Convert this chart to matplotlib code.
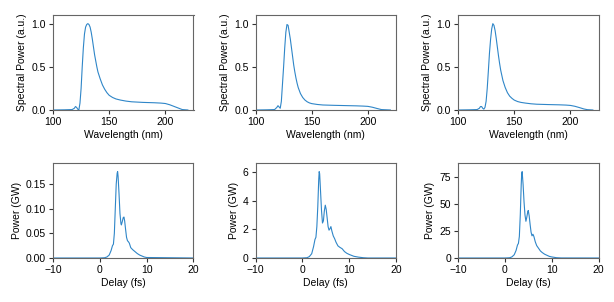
import matplotlib
matplotlib.use("Agg")
import matplotlib.pyplot as plt

plt.rcParams["font.family"] = ["Liberation Sans", "DejaVu Sans"]
plt.rcParams["font.size"] = 7.5

# spectra (wavelength in nm, normalised spectral power)
wl_1 = [100, 110, 117, 119, 120, 121, 122, 123, 124, 125, 126, 127, 128, 129, 130, 131, 132, 133,
        134, 135, 136, 137, 138, 139, 140, 142, 144, 146, 148, 150, 153, 156, 160, 165, 170, 180,
        190, 196, 200, 204, 208, 212, 215, 220]
sp_1 = [0.0, 0.002, 0.005, 0.02, 0.04, 0.03, 0.01, 0.0, 0.08, 0.25, 0.5, 0.72, 0.88, 0.96, 0.99,
        1.0, 0.99, 0.96, 0.9, 0.82, 0.73, 0.64, 0.57, 0.5, 0.44, 0.36, 0.29, 0.24, 0.2, 0.17, 0.145,
        0.128, 0.115, 0.103, 0.095, 0.088, 0.084, 0.08, 0.075, 0.06, 0.04, 0.02, 0.005, 0.0]

wl_2 = [100, 110, 117, 119, 120, 121, 122, 123, 124, 125, 126, 127, 128, 129, 130, 131, 132, 133,
        134, 135, 136, 137, 138, 140, 142, 144, 146, 148, 150, 155, 160, 170, 180, 190, 196, 200,
        204, 208, 212, 220]
sp_2 = [0.0, 0.002, 0.005, 0.03, 0.05, 0.035, 0.02, 0.1, 0.3, 0.5, 0.72, 0.9, 0.99, 0.98, 0.9,
        0.82, 0.72, 0.62, 0.52, 0.44, 0.37, 0.31, 0.26, 0.19, 0.145, 0.115, 0.095, 0.082, 0.074,
        0.064, 0.058, 0.054, 0.051, 0.048, 0.045, 0.042, 0.032, 0.018, 0.005, 0.0]

wl_3 = [100, 110, 117, 119, 120, 121, 122, 123, 124, 125, 126, 127, 128, 129, 130, 131, 132, 133,
        134, 135, 136, 137, 138, 139, 140, 142, 144, 146, 148, 150, 153, 156, 160, 165, 170, 180,
        190, 196, 200, 204, 208, 212, 215, 220]
sp_3 = [0.0, 0.002, 0.005, 0.02, 0.04, 0.04, 0.02, 0.01, 0.03, 0.1, 0.25, 0.45, 0.66, 0.82, 0.94,
        1.0, 0.98, 0.92, 0.83, 0.73, 0.63, 0.54, 0.46, 0.4, 0.34, 0.26, 0.2, 0.16, 0.135, 0.115,
        0.098, 0.088, 0.08, 0.072, 0.067, 0.063, 0.06, 0.057, 0.053, 0.043, 0.028, 0.012, 0.004, 0.0]

# pulses (delay in fs, power in GW)
t_1 = [-10, 0, 1, 1.5, 2, 2.4, 2.7, 2.9, 3.1, 3.3, 3.5, 3.7, 3.8, 3.9, 4.1, 4.3, 4.5, 4.6, 4.8,
       5.0, 5.15, 5.3, 5.5, 5.7, 5.9, 6.1, 6.3, 6.6, 7.0, 7.5, 8.0, 8.5, 9.0, 9.5, 10, 20]
p_1 = [0.0, 0.0, 0.0005, 0.002, 0.006, 0.015, 0.025, 0.028, 0.05, 0.1, 0.15, 0.172, 0.175, 0.165,
       0.13, 0.09, 0.07, 0.067, 0.074, 0.082, 0.083, 0.075, 0.058, 0.042, 0.035, 0.033, 0.03,
       0.021, 0.017, 0.013, 0.009, 0.006, 0.004, 0.002, 0.001, 0.0]

t_2 = [-10, 0, 1, 1.5, 2, 2.4, 2.7, 2.9, 3.1, 3.3, 3.5, 3.6, 3.7, 3.9, 4.1, 4.3, 4.5, 4.7, 4.9,
       5.1, 5.3, 5.5, 5.7, 5.9, 6.1, 6.3, 6.6, 6.9, 7.2, 7.6, 8.0, 8.5, 9.0, 9.5, 10, 11, 12, 13, 14,
       20]
p_2 = [0.0, 0.0, 0.02, 0.1, 0.3, 0.8, 1.3, 1.45, 2.2, 3.6, 5.5, 6.05, 5.9, 4.6, 3.3, 2.45, 2.6,
       3.3, 3.7, 3.4, 2.8, 2.2, 1.95, 2.05, 2.2, 1.9, 1.55, 1.35, 1.1, 0.85, 0.75, 0.65, 0.45, 0.33,
       0.25, 0.12, 0.06, 0.02, 0.0, 0.0]

t_3 = [-10, 0, 1, 1.5, 2, 2.4, 2.7, 2.9, 3.1, 3.3, 3.5, 3.6, 3.7, 3.9, 4.1, 4.3, 4.5, 4.7, 4.9,
       5.0, 5.2, 5.4, 5.6, 5.8, 6.0, 6.2, 6.5, 6.8, 7.2, 7.6, 8.0, 8.5, 9.0, 9.5, 10, 11, 12, 20]
p_3 = [0.0, 0.0, 0.2, 1.0, 3.0, 7.0, 12.0, 13.5, 20.0, 40.0, 68.0, 78.0, 80.0, 68.0, 52.0, 40.0,
       34.0, 38.0, 43.0, 44.0, 39.0, 31.0, 24.0, 20.5, 22.0, 20.0, 15.0, 11.5, 9.0, 6.5, 5.0, 3.5,
       2.5, 1.5, 1.0, 0.3, 0.05, 0.0]

spectra = [(wl_1, sp_1), (wl_2, sp_2), (wl_3, sp_3)]
pulses = [(t_1, p_1), (t_2, p_2), (t_3, p_3)]
pulse_ticks = [[0.0, 0.05, 0.10, 0.15], [0, 2, 4, 6], [0, 25, 50, 75]]
pulse_fmt = ["{:.2f}", "{:.0f}", "{:.0f}"]

line_color = "#2f86c8"
lefts = [53 / 614, 255.5 / 614, 458 / 614]
width = 140.5 / 614
height = 95 / 302

fig = plt.figure(figsize=(6.14, 3.02), dpi=100)


def style(ax):
    for s in ax.spines.values():
        s.set_color("#666666")
        s.set_linewidth(0.8)
    ax.tick_params(direction="out", length=3, width=0.8, color="#333333", pad=2)


for i in range(3):
    ax = fig.add_axes([lefts[i], 1 - 110 / 302, width, height])
    x, y = spectra[i]
    ax.plot(x, y, color=line_color, lw=0.8)
    ax.set_xlim(100, 225)
    ax.set_ylim(0, 1.1)
    ax.set_xticks([100, 150, 200])
    ax.set_yticks([0.0, 0.5, 1.0])
    ax.set_xlabel("Wavelength (nm)", labelpad=2)
    ax.set_ylabel("Spectral Power (a.u.)", labelpad=3)
    style(ax)

    ax = fig.add_axes([lefts[i], 1 - 258 / 302, width, height])
    x, y = pulses[i]
    ax.plot(x, y, color=line_color, lw=0.8)
    ax.set_xlim(-10, 20)
    ax.set_ylim(0, max(y) * 1.1)
    ax.set_xticks([-10, 0, 10, 20])
    ax.set_xticklabels(["\u221210", "0", "10", "20"])
    ax.set_yticks(pulse_ticks[i])
    ax.set_yticklabels([pulse_fmt[i].format(v) for v in pulse_ticks[i]])
    ax.set_xlabel("Delay (fs)", labelpad=2)
    ax.set_ylabel("Power (GW)", labelpad=3)
    style(ax)

fig.savefig("out.png", dpi=100)
